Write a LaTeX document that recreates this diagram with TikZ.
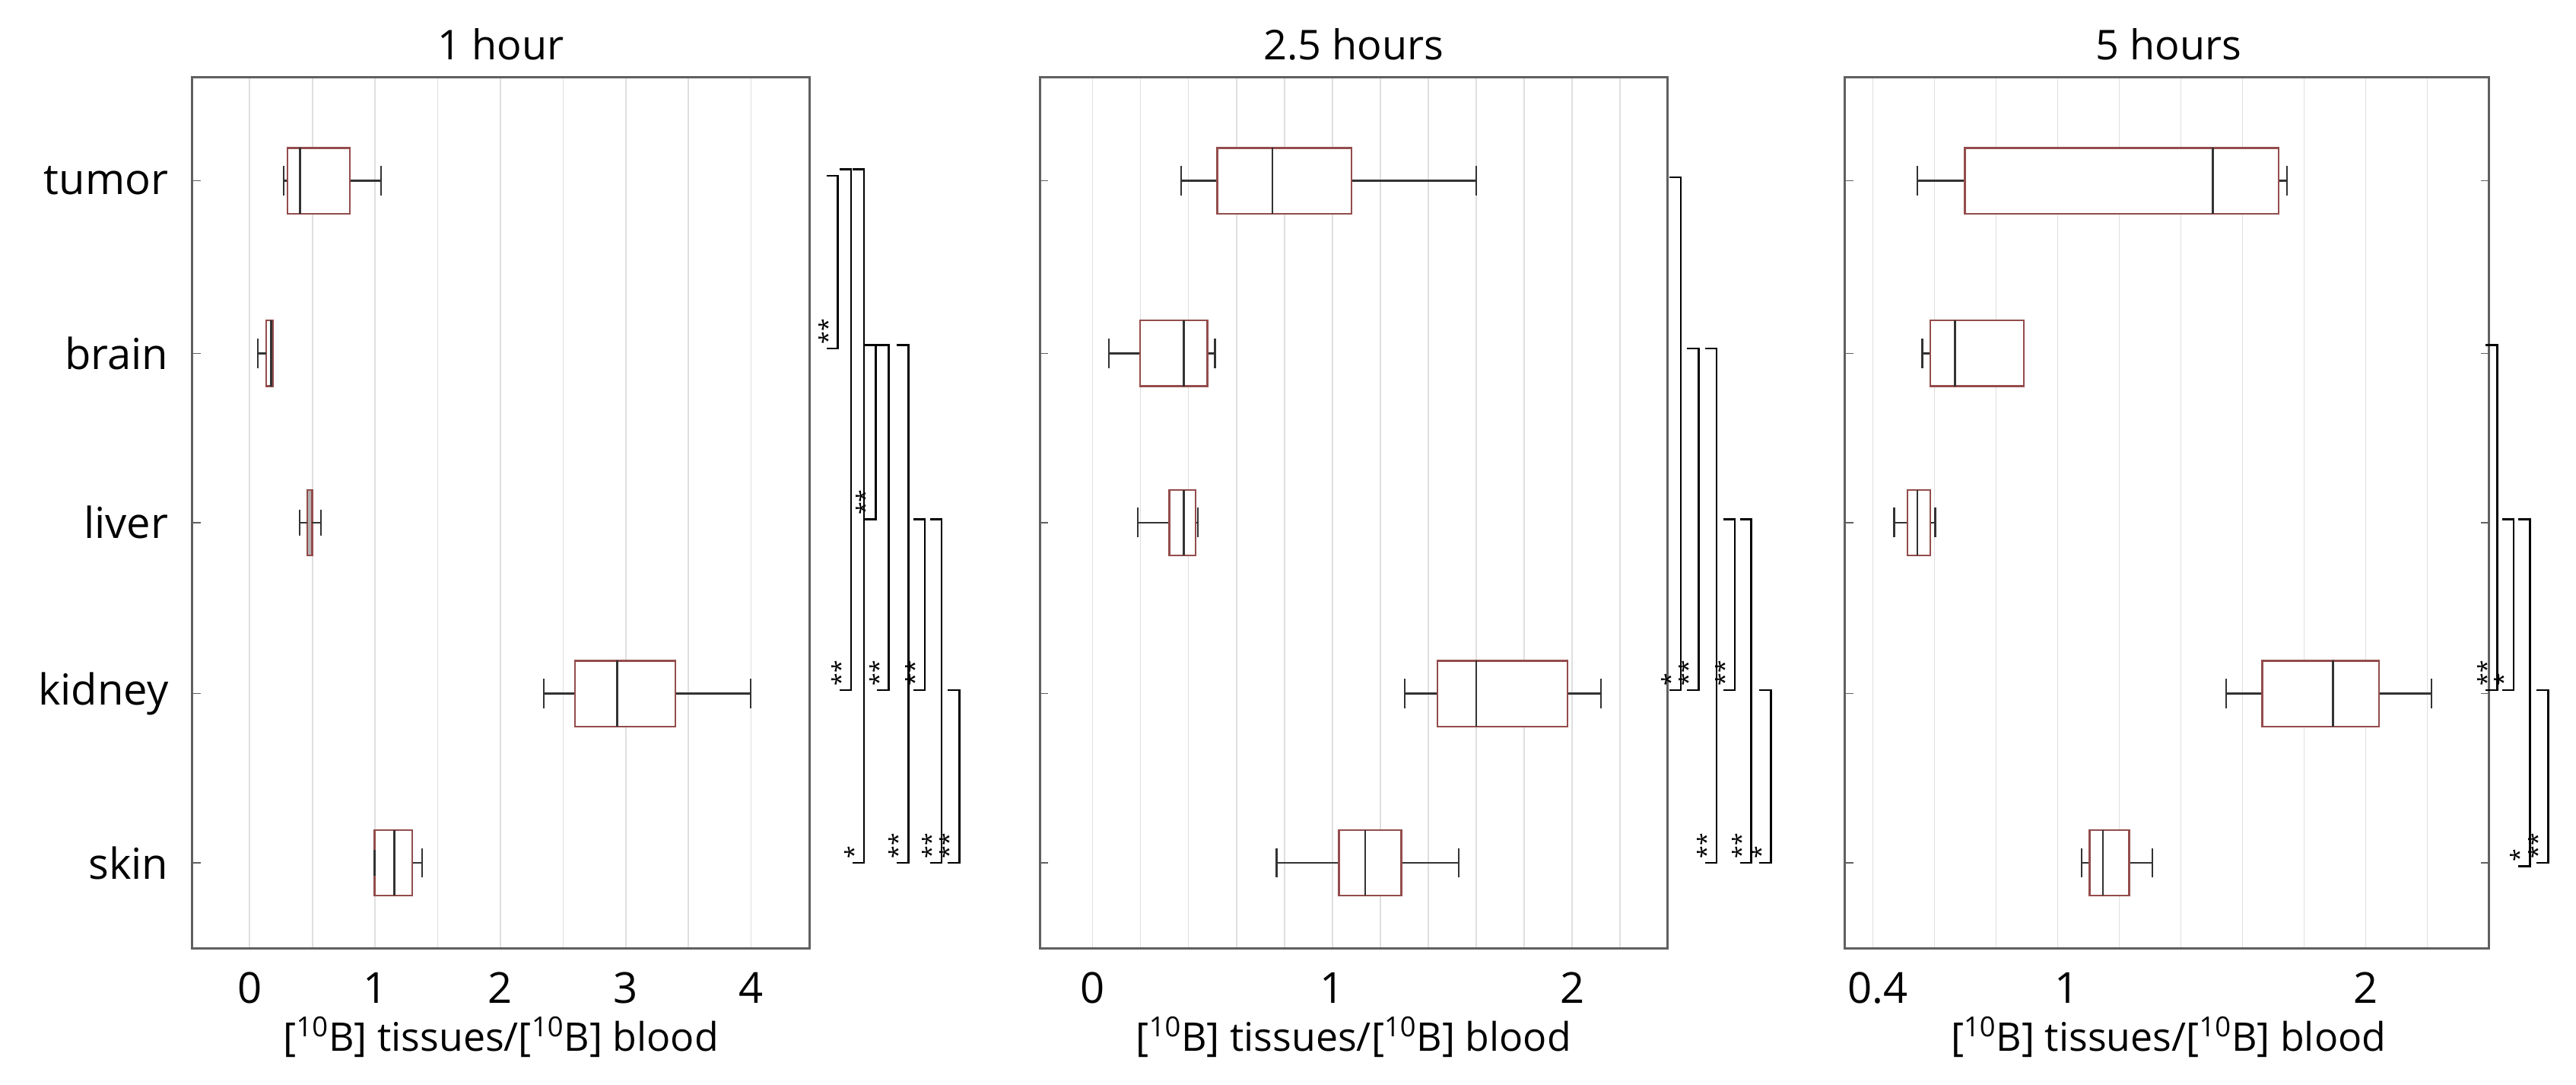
\documentclass[tikz,border=0pt]{standalone}
\usepackage{fontspec}
\setmainfont{Open Sans}
\begin{document}
\begin{tikzpicture}[x=1pt,y=-1pt,
  grid/.style={gray!25,line width=0.8pt},
  frame/.style={gray!75!black,line width=1.4pt},
  wh/.style={gray!40!black,line width=1.1pt},
  boxc/.style={draw=red!40!black!70,line width=1.1pt},
  med/.style={gray!40!black,line width=1.2pt},
  brk/.style={black,line width=1.1pt},
  cat/.style={font=\fontsize{26}{30}\selectfont,anchor=east},
  tick/.style={font=\fontsize{26}{30}\selectfont},
  xl/.style={font=\fontsize{24}{28}\selectfont},
  ttl/.style={font=\fontsize{25}{29}\selectfont},
  star/.style={font=\fontsize{14}{14}\selectfont,rotate=90,anchor=south west,inner sep=0.5pt}]
\useasboundingbox (0,0) rectangle (1568,660);
\newcommand\bp[6]{%
  \draw[wh] (#2,#1)--(#3,#1) (#5,#1)--(#6,#1) (#2,#1-9)--(#2,#1+9) (#6,#1-9)--(#6,#1+9);
  \draw[boxc,fill=white] (#3,#1-20) rectangle (#5,#1+20);
  \draw[med] (#4,#1-20)--(#4,#1+20);}
\newcommand\brk[4]{%
  \draw[brk] (#1-7,#2)--(#1,#2)--(#1,#3)--(#1-7,#3);
  \node[star] at (#1-0.5,#3-2) {#4};}
% ---------- panel 1 ----------
\foreach \k in {0,...,8} \draw[grid] (152+38.15*\k,47)--(152+38.15*\k,577);
\foreach \yy in {110,215,318,422,525} \draw[frame,line width=0.8pt] (117,\yy)--(122,\yy);
\draw[frame] (117,47) rectangle (493,577);
\node[ttl] (t1) at (305,27) {1 hour};
\foreach \v/\lab in {0/0,1/1,2/2,3/3,4/4} \node[tick] (a1\v) at (152+76.3*\v,601) {\lab};
\node[xl] (x1) at (305,631) {[\textsuperscript{10}B] tissues/[\textsuperscript{10}B] blood};
\node[cat] (c1) at (106,110) {tumor};
\node[cat] (c2) at (106,215) {brain};
\node[cat] (c3) at (106,318) {liver};
\node[cat] (c4) at (106,422) {kidney};
\node[cat] (c5) at (106,525) {skin};
\bp{110}{172.6}{175}{182.5}{213}{232}
\bp{215}{157}{162}{165}{166}{166}
\draw[wh] (157,215)--(162,215) (157,207)--(157,223);
\draw[boxc,fill=gray!60] (187,298) rectangle (190,338);
\draw[wh] (182.5,318)--(187,318) (190,318)--(195.5,318) (182.5,310)--(182.5,326) (195.5,310)--(195.5,326);
\bp{422}{331}{350}{375.6}{411}{457}
\bp{525}{228}{228}{240}{251}{257}
\draw[wh] (228,517)--(228,533);
\brk{510}{107}{212}{**}
\brk{518}{103}{420}{**}
\brk{526}{103}{525}{*}
\brk{533}{210}{316}{**}
\brk{541}{210}{420}{**}
\brk{553}{210}{525}{**}
\brk{563}{316}{420}{**}
\brk{573}{316}{525}{**}
\brk{584}{420}{525}{**}
% ---------- panel 2 ----------
\foreach \k in {0,...,11} \draw[grid] (665+29.2*\k,47)--(665+29.2*\k,577);
\foreach \yy in {110,215,318,422,525} \draw[frame,line width=0.8pt] (633,\yy)--(638,\yy);
\draw[frame] (633,47) rectangle (1015,577);
\node[ttl] (t2) at (824,27) {2.5 hours};
\foreach \v in {0,1,2} \node[tick] (a2\v) at (665+146*\v,601) {\v};
\node[xl] (x2) at (824,631) {[\textsuperscript{10}B] tissues/[\textsuperscript{10}B] blood};
\bp{110}{719}{741}{774.5}{822.7}{898.6}
\bp{215}{675}{694}{720.5}{735}{739.5}
\bp{318}{692.7}{711.7}{720.5}{727.8}{729}
\bp{422}{855}{875}{898.6}{954}{974.5}
\bp{525}{777}{815}{831}{853}{888}
\brk{1023}{108}{420}{*}
\brk{1034}{212}{420}{**}
\brk{1045}{212}{525}{**}
\brk{1056}{316}{420}{**}
\brk{1066}{316}{525}{**}
\brk{1078}{420}{525}{*}
% ---------- panel 3 ----------
\foreach \k in {0,...,9} \draw[grid] (1140+37.5*\k,47)--(1140+37.5*\k,577);
\foreach \yy in {110,215,318,422,525} \draw[frame,line width=0.8pt] (1123,\yy)--(1128,\yy) (1510,\yy)--(1515,\yy);
\draw[frame] (1123,47) rectangle (1515,577);
\node[ttl] (t3) at (1320,27) {5 hours};
\node[tick] (a30) at (1143,601) {0.4};
\node[tick] (a31) at (1258,601) {1};
\node[tick] (a32) at (1440,601) {2};
\node[xl] (x3) at (1320,631) {[\textsuperscript{10}B] tissues/[\textsuperscript{10}B] blood};
\bp{110}{1167}{1196}{1347}{1387}{1392}
\bp{215}{1170}{1175}{1190}{1232}{1232}
\bp{318}{1153}{1161}{1167}{1175}{1178}
\bp{422}{1355}{1377}{1420}{1448}{1480}
\bp{525}{1267}{1272}{1280}{1296}{1310}
\brk{1520}{210}{420}{**}
\brk{1530}{316}{420}{*}
\brk{1540}{316}{527}{*}
\brk{1551}{420}{525}{**}
\end{tikzpicture}
\end{document}
